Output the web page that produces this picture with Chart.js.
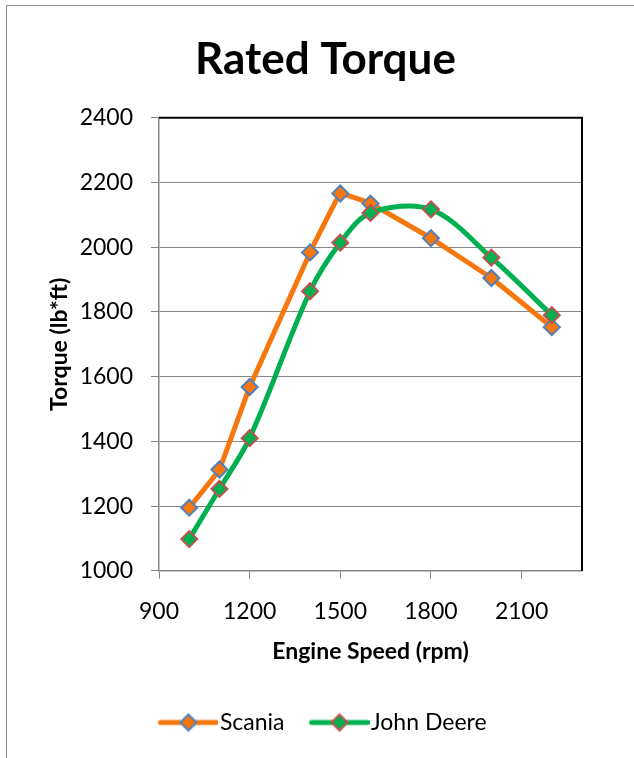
<!DOCTYPE html>
<html>
<head>
<meta charset="utf-8">
<script src="https://cdn.jsdelivr.net/npm/chart.js@4.4.0/dist/chart.umd.min.js"></script>
<style>
  body { margin: 0; background: #fff; }
  canvas { display: block; }
</style>
</head>
<body>
<canvas id="chart" width="634" height="758"></canvas>
<script>
// values
const rpm = [1000, 1100, 1200, 1400, 1500, 1600, 1800, 2000, 2200];
const scania = [1195, 1313, 1568, 1984, 2166, 2135, 2028, 1905, 1753];
const johnDeere = [1098, 1253, 1410, 1864, 2014, 2106, 2117, 1968, 1790];
const xTicks = [900, 1200, 1500, 1800, 2100];
const yTicks = [1000, 1200, 1400, 1600, 1800, 2000, 2200, 2400];

const FONT = 'Lato, "Open Sans", sans-serif';
const axisGrey = '#868686';

// legend icon: short thick line with the diamond marker in the middle
function legendIcon(lineColor, fill, stroke) {
  const c = document.createElement('canvas');
  c.width = 64; c.height = 20;
  const g = c.getContext('2d');
  const x0 = 6, x1 = 62, cy = 10;
  g.strokeStyle = lineColor;
  g.lineWidth = 5;
  g.lineCap = 'round';
  g.beginPath(); g.moveTo(x0, cy); g.lineTo(x1, cy); g.stroke();
  const cx = (x0 + x1) / 2, r = 8;
  g.beginPath();
  g.moveTo(cx, cy - r); g.lineTo(cx + r, cy); g.lineTo(cx, cy + r); g.lineTo(cx - r, cy); g.closePath();
  g.fillStyle = fill; g.fill();
  g.strokeStyle = stroke; g.lineWidth = 2; g.stroke();
  return c;
}

const styles = [
  { line: '#F7770F', fill: '#F7770F', border: '#4F81BD' },
  { line: '#00B050', fill: '#00B050', border: '#C0504D' }
];

function toPoints(values) {
  return rpm.map((x, i) => ({ x: x, y: values[i] }));
}

const frame = {
  id: 'frame',
  beforeDraw(chart) {
    const ctx = chart.ctx;
    ctx.save();
    ctx.fillStyle = '#fff';
    ctx.fillRect(0, 0, chart.width, chart.height);
    ctx.strokeStyle = '#8a8a8a';
    ctx.lineWidth = 1;
    ctx.beginPath();
    ctx.moveTo(6.5, chart.height);
    ctx.lineTo(6.5, 5.5);
    ctx.lineTo(chart.width, 5.5);
    ctx.stroke();
    ctx.restore();
  },
  afterDraw(chart) {
    const a = chart.chartArea, ctx = chart.ctx;
    ctx.save();
    ctx.strokeStyle = '#000';
    ctx.lineWidth = 2;
    ctx.beginPath();
    ctx.moveTo(a.left, a.top);
    ctx.lineTo(a.right, a.top);
    ctx.lineTo(a.right, a.bottom);
    ctx.stroke();
    ctx.restore();
  }
};

const plain = v => String(v);

new Chart(document.getElementById('chart'), {
  type: 'line',
  data: {
    datasets: [
      {
        label: 'Scania',
        data: toPoints(scania),
        borderColor: styles[0].line,
        backgroundColor: styles[0].fill,
        pointBackgroundColor: styles[0].fill,
        pointBorderColor: styles[0].border,
        borderWidth: 5,
        borderJoinStyle: 'round',
        pointStyle: 'rectRot',
        pointRadius: 8,
        pointBorderWidth: 2,
        tension: 0.05,
        order: 2
      },
      {
        label: 'John Deere',
        data: toPoints(johnDeere),
        borderColor: styles[1].line,
        backgroundColor: styles[1].fill,
        pointBackgroundColor: styles[1].fill,
        pointBorderColor: styles[1].border,
        borderWidth: 5,
        pointStyle: 'rectRot',
        pointRadius: 8,
        pointBorderWidth: 2,
        tension: 0.33,
        order: 1
      }
    ]
  },
  options: {
    responsive: false,
    animation: false,
    layout: { padding: { left: 69, right: 52, top: 0, bottom: 14 } },
    scales: {
      x: {
        type: 'linear',
        min: 900,
        max: 2300,
        afterBuildTicks: axis => { axis.ticks = xTicks.map(v => ({ value: v })); },
        grid: { drawOnChartArea: false, drawTicks: true, tickLength: 8, tickColor: axisGrey },
        border: { color: axisGrey, width: 1.5 },
        ticks: { color: '#000', font: { family: FONT, size: 23 }, padding: 19, maxRotation: 0, callback: plain },
        title: { display: true, text: 'Engine Speed (rpm)', color: '#000', font: { family: FONT, size: 23, weight: 'bold' }, padding: { top: -7, bottom: 15 } }
      },
      y: {
        min: 1000,
        max: 2400,
        afterBuildTicks: axis => { axis.ticks = yTicks.map(v => ({ value: v })); },
        afterFit: scale => { scale.width = 90; },
        grid: { color: axisGrey, lineWidth: 1, drawTicks: true, tickLength: 8, tickColor: axisGrey },
        border: { color: axisGrey, width: 1.5 },
        ticks: { color: '#000', font: { family: FONT, size: 23 }, padding: 18, callback: plain },
        title: { display: true, text: 'Torque (lb*ft)', color: '#000', font: { family: FONT, size: 23, weight: 'bold' }, padding: { top: -23, bottom: 0 } }
      }
    },
    plugins: {
      title: {
        display: true,
        text: 'Rated Torque',
        color: '#000',
        font: { family: FONT, size: 44, weight: 'bold' },
        padding: { top: 33, bottom: 32 }
      },
      legend: {
        position: 'bottom',
        labels: {
          color: '#000',
          font: { family: FONT, size: 23 },
          usePointStyle: true,
          pointStyleWidth: 44,
          padding: 31,
          sort: (a, b) => a.datasetIndex - b.datasetIndex,
          generateLabels: chart => {
            const items = Chart.defaults.plugins.legend.labels.generateLabels(chart);
            items.forEach(it => {
              const s = styles[it.datasetIndex];
              it.pointStyle = legendIcon(s.line, s.fill, s.border);
            });
            return items;
          }
        }
      },
      tooltip: { enabled: false }
    }
  },
  plugins: [frame]
});
</script>
</body>
</html>
